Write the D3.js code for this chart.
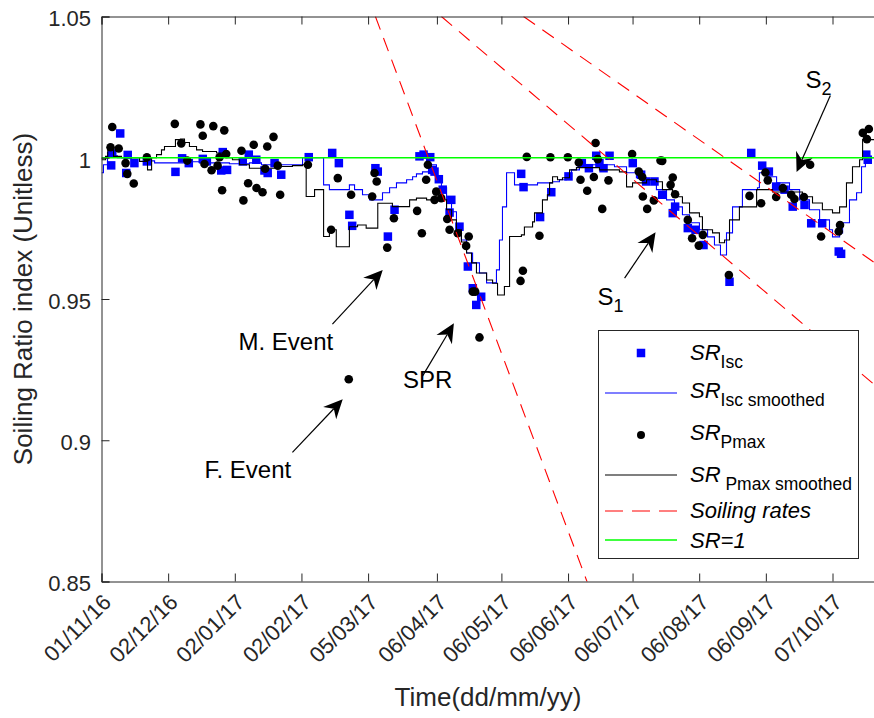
<!DOCTYPE html>
<html>
<head>
<meta charset="utf-8">
<script src="https://cdn.jsdelivr.net/npm/d3@7"></script>
<style>
  body { margin: 0; background: #fff; }
  svg { display: block; }
  text { font-family: Arial, "Liberation Sans", Helvetica, sans-serif; fill: #262626; }
</style>
</head>
<body>
<svg id="chart" width="874" height="718"></svg>
<script>
// ---- data -------------------------------------------------------------
// Days are counted from 01/11/2016.
const startDate = new Date(2016, 10, 1);
const tickLabels = ["01/11/16", "02/12/16", "02/01/17", "02/02/17", "05/03/17", "06/04/17",
                    "06/05/17", "06/06/17", "06/07/17", "06/08/17", "06/09/17", "07/10/17"];
const yTicks = [0.85, 0.9, 0.95, 1, 1.05];

// SR from short-circuit current, [day, SR]
const srIsc = [
  [4.5, 0.9973], [5, 1.0015], [8.7, 1.0086], [11.5, 0.9946], [12.2, 1.001], [15.3, 0.9981],
  [21.1, 0.9987], [34.4, 0.995], [37.5, 0.9998], [40.6, 0.9981], [47.1, 0.9996], [49, 0.9987],
  [55.7, 0.9955], [56.4, 1.002], [58.4, 0.9957], [65.7, 0.9987], [68.5, 1.0011], [72, 0.9993],
  [75.8, 0.9955], [77.3, 0.9946], [80.5, 0.9981], [83.6, 0.994], [96.4, 1.0002], [107.3, 1.0017],
  [110.4, 0.9981], [115.3, 0.9798], [116.6, 0.9759], [127.4, 0.9963], [128.5, 0.9951],
  [133.2, 0.9721], [136.3, 0.9816], [147.9, 1.0005], [149.8, 1.0011], [152.9, 1.0002],
  [153.8, 0.9957], [154.9, 0.9951], [156.9, 0.9924], [158.7, 0.9887], [161.9, 0.9806],
  [162.7, 0.9851], [166.5, 0.9756], [170.4, 0.9615], [172.7, 0.9538], [174.3, 0.9479],
  [176.6, 0.9508], [195.2, 0.9943], [196.3, 0.9896], [204, 0.979], [209.2, 0.9878],
  [217.2, 0.9934], [223.4, 0.9981], [226.7, 0.9963], [230.1, 1.0007], [231.6, 0.9981],
  [233.5, 0.9963], [236.3, 1.0007], [247.1, 0.9981], [251, 0.994], [253.3, 0.9916],
  [257.2, 0.9916], [260.8, 0.9869], [265.7, 0.9804], [266.8, 0.9827], [272.7, 0.9751],
  [276.3, 0.9745], [280, 0.9691], [292.1, 0.9561], [302.2, 1.0017], [307.3, 0.9972],
  [310.4, 0.9951], [313.8, 0.9898], [317.7, 0.9887], [321.5, 0.9827], [327, 0.9833],
  [330.1, 0.9768], [335.2, 0.9768], [342.9, 0.9668], [344, 0.966], [355.7, 1.0011], [356.4, 0.9993]
];

// SR from maximum power, [day, SR]
const srPmax = [
  [4.2, 1.0037], [5, 1.0109], [8, 1.0033], [11.2, 0.9981], [12, 0.9943], [15, 0.9909],
  [21.1, 1.0002], [34.1, 1.012], [37.1, 1.0051], [39.9, 0.999], [46, 1.0118], [47.1, 1.0078],
  [47.9, 0.9978], [51.2, 0.9956], [52, 1.0112], [54, 0.9972], [54.9, 1.0002], [56.1, 0.9885],
  [57.1, 1.0097], [58, 1.0013], [65.1, 1.0025], [66, 0.9849], [68.2, 0.991], [70.8, 1.0046],
  [72.1, 0.9893], [74.9, 0.9878], [76.1, 0.9961], [77.1, 1.004], [80, 1.0074], [82, 0.9972],
  [83.1, 0.9869], [96, 0.9975], [106.8, 0.9745], [109.9, 0.9928], [115, 0.9216], [116.1, 0.9869],
  [125.9, 0.9863], [127, 0.9946], [128, 0.9916], [132.9, 0.9682], [136, 0.9786], [146.8, 0.9812],
  [149, 0.9733], [151, 0.9922], [151.8, 0.9975], [154.9, 0.9851], [155.7, 0.988], [158, 0.9857],
  [160.8, 0.9783], [161.9, 0.9745], [165.7, 0.9733], [169.6, 0.9688], [170.8, 0.9721],
  [172.7, 0.9526], [173.8, 0.9526], [175.8, 0.9364], [194.9, 0.9564], [196, 0.96],
  [197.8, 1.0003], [203.7, 0.9724], [208.8, 1.0002], [216.9, 1.0002], [222, 0.9983],
  [222.8, 0.9922], [225.9, 0.9883], [229, 0.9932], [229.8, 1.0052], [230.8, 0.9995],
  [232.9, 0.9819], [235.8, 0.992], [246.8, 1.0013], [249.9, 0.9951], [251.5, 0.9932],
  [251.8, 0.9863], [253.8, 0.9819], [256.9, 0.9849], [260, 0.999], [260.8, 0.9989],
  [264.7, 0.9904], [265.7, 0.993], [266.8, 0.9871], [272.7, 0.978], [274.7, 0.9715],
  [277.8, 0.9689], [279.7, 0.9727], [291.8, 0.9585], [301.4, 0.9865], [306.8, 0.9839],
  [308.8, 0.9948], [309.9, 0.992], [313.8, 0.9861], [316.9, 0.9893], [320.8, 0.9869],
  [322.3, 0.9854], [326.7, 0.9861], [329.6, 0.9975], [334.7, 0.9721], [342.9, 0.9739],
  [343.5, 0.9762], [354.1, 1.0088], [356, 1.0066], [356.9, 1.0102]
];

// Smoothed SR (Isc), step series [day, SR]
const srIscSmooth = [
  [0, 0.9947], [0.9, 0.9975], [2.8, 1.0018], [4.7, 1.0007], [7.4, 1.0], [20.5, 0.9989],
  [24.7, 0.9982], [38.6, 0.9986], [45.6, 0.9982], [59.5, 0.9979], [68.8, 0.9982],
  [74.4, 0.9975], [93.5, 1.0], [103.3, 0.9904], [106, 0.9887], [115.3, 0.9904],
  [117.7, 0.9887], [121.4, 0.9869], [124.7, 0.9851], [130.7, 0.9876], [134, 0.9894],
  [137.2, 0.9911], [141.9, 0.9922], [144.7, 0.9933], [146.5, 0.9943], [149.3, 0.995],
  [153, 0.9975], [155.8, 0.9933], [158.1, 0.9894], [160.5, 0.9851], [162.8, 0.9809],
  [165.1, 0.9755], [167.4, 0.9709], [169.8, 0.9663], [172.6, 0.9628], [175.8, 0.9592],
  [179.1, 0.9557], [183.7, 0.9603], [185.1, 0.9709], [186.5, 0.9826], [188.4, 0.9947],
  [192.1, 0.9904], [202.8, 0.9911], [209.8, 0.9915], [213, 0.9922], [216.3, 0.9933],
  [218.6, 0.9957], [222.3, 0.9968], [227.9, 0.9975], [238.6, 0.9968], [244.2, 0.9947],
  [248.8, 0.9929], [253.5, 0.9922], [258.1, 0.9887], [262.8, 0.9851], [266.5, 0.9826],
  [270.2, 0.9798], [273.5, 0.977], [278.1, 0.9745], [281.9, 0.972], [285.1, 0.9691],
  [287.9, 0.9656], [290.7, 0.9734], [293.5, 0.9826], [298.1, 0.9887], [305.1, 0.9894],
  [306, 0.9947], [309.3, 0.9933], [314, 0.9911], [320, 0.9887], [324.7, 0.9851],
  [329.3, 0.9816], [334, 0.978], [338.6, 0.9745], [340, 0.972], [343.3, 0.9734],
  [344.7, 0.977], [347.9, 0.9851], [351.2, 0.9876], [353.5, 0.9968], [355.3, 1.0], [362, 1.0]
];

// Smoothed SR (Pmax), step series [day, SR]
const srPmaxSmooth = [
  [0, 0.9993], [1.9, 1.0005], [2.9, 1.004], [5.6, 1.0005], [9.3, 1.0], [17.7, 0.9987],
  [21.4, 0.9957], [23.3, 1.0], [25.6, 1.0011], [27.9, 1.0028], [29.3, 1.004], [34.4, 1.0064],
  [36.7, 1.0066], [38.6, 1.0054], [40.9, 1.004], [44.2, 1.0028], [47, 1.0022], [53.5, 1.0017],
  [56.3, 1.0011], [58.6, 1.0], [60.9, 0.9993], [64.2, 0.9975], [68.8, 0.9963], [80.9, 0.9969],
  [88.8, 0.9972], [93.5, 0.9975], [95.2, 0.9863], [99.1, 0.9887], [103.3, 0.9721],
  [106, 0.9745], [109.2, 0.9685], [115.3, 0.9756], [119.1, 0.9762], [123.1, 0.9751],
  [128.5, 0.9839], [135.3, 0.9827], [143.3, 0.9851], [146.5, 0.9857], [151.2, 0.9851],
  [160.5, 0.9816], [162.8, 0.978], [165.1, 0.9745], [167.4, 0.9702], [169.8, 0.9663],
  [172.1, 0.9628], [174.4, 0.9592], [179.1, 0.9567], [181.9, 0.9556], [184.2, 0.9514],
  [187.4, 0.9544], [189.8, 0.9721], [195.3, 0.9727], [196.7, 0.9755], [200.5, 0.9773],
  [201.4, 0.9805], [205.1, 0.9851], [207.4, 0.9869], [208.4, 0.9911], [209.8, 0.9933],
  [212.1, 0.9922], [214.4, 0.9929], [217.7, 0.9957], [220.9, 0.9965], [231.6, 0.9957],
  [240.9, 0.995], [244.2, 0.9897], [247, 0.9911], [253.5, 0.9922], [258.1, 0.9915],
  [260.9, 0.9887], [265.6, 0.9862], [270.2, 0.984], [273.5, 0.9805], [278.1, 0.9791],
  [279.5, 0.9745], [284.2, 0.9734], [287.4, 0.9699], [289.8, 0.9709], [292.1, 0.978],
  [296.7, 0.9826], [304.7, 0.9887], [312.1, 0.9879], [326, 0.9862], [330.7, 0.984],
  [335.3, 0.9816], [340, 0.9805], [343.3, 0.9826], [346.5, 0.9911], [349.3, 0.9968],
  [352.6, 0.9993], [354, 1.0064], [362, 1.0064]
];

// Soiling-rate fits, each [day0, SR0, day1, SR1]
const soilingRates = [
  [127.4, 1.05, 226.0, 0.8496],
  [158.1, 1.05, 359.1, 0.9199],
  [196.3, 1.05, 359.1, 0.9631]
];

// Callouts: text anchor and arrow tail/tip in [day, SR]
const callouts = [
  { text: "S", sub: "2", at: [327.4, 1.0248], from: [339.0, 1.0220], to: [323.3, 0.9950] },
  { text: "S", sub: "1", at: [230.7, 0.9479], from: [243.3, 0.9574], to: [257.7, 0.9736] },
  { text: "SPR", sub: "", at: [140.2, 0.9185], from: [149.3, 0.9227], to: [163.9, 0.9414] },
  { text: "M. Event", sub: "", at: [63.7, 0.9319], from: [107.4, 0.9411], to: [130.8, 0.9603] },
  { text: "F. Event", sub: "", at: [47.9, 0.8865], from: [88.8, 0.8957], to: [112.2, 0.9145] }
];

// ---- layout -------------------------------------------------------------
const plot = { left: 101.5, top: 16.5, right: 875.5, bottom: 581.5 };
const axisColor = "#262626";
const blue = "#0000ff", green = "#00ff00", red = "#ff0000";

const svg = d3.select("#chart");
const dayToDate = d => new Date(startDate.getTime() + d * 86400000);
const parseTick = d3.timeParse("%d/%m/%y");

const x = d3.scaleTime().domain([startDate, dayToDate(360)]).range([plot.left, plot.right]);
const y = d3.scaleLinear().domain([0.85, 1.05]).range([plot.bottom, plot.top]);
const px = d => x(dayToDate(d));

svg.append("defs").append("clipPath").attr("id", "plotClip")
  .append("rect")
  .attr("x", plot.left).attr("y", plot.top)
  .attr("width", plot.right - plot.left).attr("height", plot.bottom - plot.top);

const g = svg.append("g").attr("clip-path", "url(#plotClip)");

// SR_Isc squares
const sq = 8.5;
g.append("g").selectAll("rect").data(srIsc).join("rect")
  .attr("x", d => px(d[0]) - sq / 2).attr("y", d => y(d[1]) - sq / 2)
  .attr("width", sq).attr("height", sq).attr("fill", blue);

// SR_Isc smoothed
const stepLine = d3.line().x(d => px(d[0])).y(d => y(d[1])).curve(d3.curveStepAfter);
g.append("path").datum(srIscSmooth).attr("d", stepLine)
  .attr("fill", "none").attr("stroke", blue).attr("stroke-width", 1.1);

// SR_Pmax dots
g.append("g").selectAll("circle").data(srPmax).join("circle")
  .attr("cx", d => px(d[0])).attr("cy", d => y(d[1])).attr("r", 4.3).attr("fill", "#000");

// SR_Pmax smoothed
g.append("path").datum(srPmaxSmooth).attr("d", stepLine)
  .attr("fill", "none").attr("stroke", "#000").attr("stroke-width", 1.1);

// Soiling-rate lines
g.append("g").selectAll("line").data(soilingRates).join("line")
  .attr("x1", d => px(d[0])).attr("y1", d => y(d[1]))
  .attr("x2", d => px(d[2])).attr("y2", d => y(d[3]))
  .attr("stroke", red).attr("stroke-width", 1.1).attr("stroke-dasharray", "14,9");

// SR = 1 reference
g.append("line")
  .attr("x1", plot.left).attr("x2", plot.right).attr("y1", y(1)).attr("y2", y(1))
  .attr("stroke", green).attr("stroke-width", 1.6);

// ---- axes -------------------------------------------------------------
const tickLen = 8;
const tickDatesParsed = tickLabels.map(parseTick);

const xAxis = d3.axisBottom(x).tickValues(tickDatesParsed).tickSize(-tickLen).tickFormat("");
svg.append("g").attr("transform", `translate(0,${plot.bottom})`).call(xAxis)
  .call(a => a.select(".domain").attr("stroke", axisColor))
  .call(a => a.selectAll(".tick line").attr("stroke", axisColor));

const xTop = d3.axisTop(x).tickValues(tickDatesParsed).tickSize(-tickLen).tickFormat("");
svg.append("g").attr("transform", `translate(0,${plot.top})`).call(xTop)
  .call(a => a.select(".domain").attr("stroke", axisColor))
  .call(a => a.selectAll(".tick line").attr("stroke", axisColor));

const yAxis = d3.axisLeft(y).tickValues(yTicks).tickSize(-tickLen).tickFormat("");
svg.append("g").attr("transform", `translate(${plot.left},0)`).call(yAxis)
  .call(a => a.select(".domain").attr("stroke", axisColor))
  .call(a => a.selectAll(".tick line").attr("stroke", axisColor));

// Tick labels
svg.append("g").selectAll("text").data(yTicks).join("text")
  .attr("x", 91).attr("y", d => y(d)).attr("dy", "0.45em")
  .attr("text-anchor", "end").attr("font-size", 22)
  .text(d => d3.format("")(d));

svg.append("g").selectAll("text").data(tickLabels).join("text")
  .attr("transform", d => `translate(${x(parseTick(d)) + 11},${plot.bottom + 22}) rotate(-45)`)
  .attr("text-anchor", "end").attr("font-size", 22)
  .text(d => d);

// Axis titles
svg.append("text")
  .attr("x", 488).attr("y", 706).attr("text-anchor", "middle").attr("font-size", 26)
  .text("Time(dd/mm/yy)");

svg.append("text")
  .attr("transform", `translate(32,${(plot.top + plot.bottom) / 2}) rotate(-90)`)
  .attr("text-anchor", "middle").attr("font-size", 26)
  .text("Soiling Ratio index (Unitless)");

// ---- callouts ---------------------------------------------------------
function arrow(sel, x1, y1, x2, y2) {
  const len = Math.hypot(x2 - x1, y2 - y1);
  const ux = (x2 - x1) / len, uy = (y2 - y1) / len;
  const nx = -uy, ny = ux;
  const L = 19, Wd = 9, notch = 6;
  const bx = x2 - ux * L, by = y2 - uy * L;
  sel.append("line").attr("x1", x1).attr("y1", y1)
    .attr("x2", x2 - ux * (L - notch)).attr("y2", y2 - uy * (L - notch))
    .attr("stroke", "#000").attr("stroke-width", 1.2);
  sel.append("path")
    .attr("d", `M${x2},${y2}L${bx + nx * Wd},${by + ny * Wd}L${x2 - ux * (L - notch)},${y2 - uy * (L - notch)}L${bx - nx * Wd},${by - ny * Wd}Z`)
    .attr("fill", "#000");
}

const cg = svg.append("g");
callouts.forEach(c => {
  arrow(cg, px(c.from[0]), y(c.from[1]), px(c.to[0]), y(c.to[1]));
  const t = cg.append("text").attr("x", px(c.at[0])).attr("y", y(c.at[1]))
    .attr("font-size", 24).style("fill", "#000");
  t.append("tspan").text(c.text);
  if (c.sub) t.append("tspan").attr("dy", 7).attr("font-size", 18).text(c.sub);
});

// ---- legend -----------------------------------------------------------
const lg = svg.append("g");
lg.append("rect").attr("x", 598.5).attr("y", 330.5).attr("width", 260).attr("height", 228)
  .attr("fill", "#fff").attr("stroke", axisColor).attr("stroke-width", 1);

const legendItems = [
  { kind: "square", main: "SR", sub: "Isc", cy: 353, base: 360 },
  { kind: "line", color: blue, main: "SR", sub: "Isc smoothed", cy: 393, base: 398 },
  { kind: "dot", main: "SR", sub: "Pmax", cy: 435, base: 440 },
  { kind: "line", color: "#000", main: "SR", sub: " Pmax smoothed", cy: 475, base: 482 },
  { kind: "dash", color: red, main: "Soiling rates", sub: "", cy: 511, base: 518 },
  { kind: "line", color: green, main: "SR=1", sub: "", cy: 540, base: 548 }
];
legendItems.forEach(it => {
  if (it.kind === "square") {
    lg.append("rect").attr("x", 641 - sq / 2).attr("y", it.cy - sq / 2)
      .attr("width", sq).attr("height", sq).attr("fill", blue);
  } else if (it.kind === "dot") {
    lg.append("circle").attr("cx", 641).attr("cy", it.cy).attr("r", 4).attr("fill", "#000");
  } else {
    lg.append("line").attr("x1", 605).attr("x2", 677).attr("y1", it.cy).attr("y2", it.cy)
      .attr("stroke", it.color).attr("stroke-width", it.color === green ? 1.4 : 1.1)
      .attr("stroke-dasharray", it.kind === "dash" ? "18,9" : null);
  }
  const t = lg.append("text").attr("x", 690).attr("y", it.base).attr("font-size", 22)
    .style("fill", "#000").attr("xml:space", "preserve");
  t.append("tspan").attr("font-style", "italic").text(it.main);
  if (it.sub) t.append("tspan").attr("dy", 8).attr("font-size", 17.5).text(it.sub);
});
</script>
</body>
</html>
